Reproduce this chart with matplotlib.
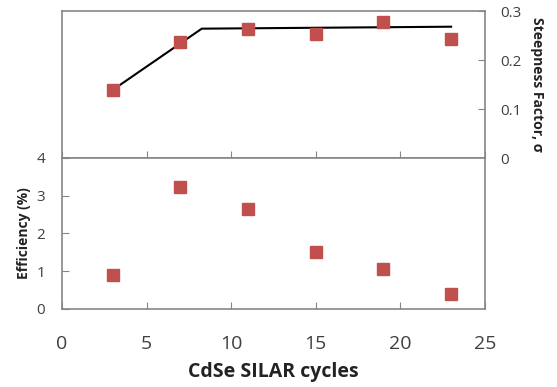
import matplotlib
matplotlib.use('Agg')
import matplotlib.pyplot as plt

plt.rcParams['font.family'] = ['Open Sans', 'DejaVu Sans']

# 데이터
cycles = [3, 7, 11, 15, 19, 23]
steepness = [0.139, 0.237, 0.263, 0.254, 0.278, 0.243]
efficiency = [0.90, 3.24, 2.64, 1.52, 1.06, 0.40]

# 추세선 (꺾인 직선)
fit_x = [3, 8.26, 23.0]
fit_y = [0.139, 0.264, 0.268]

red = '#C0504D'
spine_c = '#868686'
text_c = '#404040'

fig = plt.figure(figsize=(5.57, 3.87), dpi=100)
ax1 = fig.add_axes([0.1113, 0.5917, 0.7594, 0.3798])
ax2 = fig.add_axes([0.1113, 0.2016, 0.7594, 0.3902])

# 위쪽 그래프: Steepness factor
ax1.plot(fit_x, fit_y, color='black', lw=1.5, zorder=2)
ax1.plot(cycles, steepness, 's', color=red, ms=8.5, zorder=3)
ax1.set_xlim(0, 25)
ax1.set_ylim(0, 0.3)
ax1.set_xticks([0, 5, 10, 15, 20, 25])
ax1.set_yticks([0, 0.1, 0.2, 0.3])
ax1.set_yticklabels(['0', '0.1', '0.2', '0.3'])
ax1.yaxis.tick_right()
ax1.yaxis.set_label_position('right')
ax1.tick_params(axis='x', direction='in', length=5, color=spine_c, labelbottom=False)
ax1.tick_params(axis='y', direction='in', length=5, color=spine_c, labelsize=11,
                labelcolor=text_c, pad=11)
ax1.set_ylabel('Steepness Factor, σ', fontsize=10, fontweight='bold',
               rotation=-90, labelpad=16, color='#222222')

# 아래쪽 그래프: Efficiency
ax2.plot(cycles, efficiency, 's', color=red, ms=8.5, zorder=3)
ax2.set_xlim(0, 25)
ax2.set_ylim(0, 4)
ax2.set_xticks([0, 5, 10, 15, 20, 25])
ax2.set_yticks([0, 1, 2, 3, 4])
ax2.tick_params(axis='x', direction='in', length=5, color=spine_c, labelsize=14,
                labelcolor=text_c, pad=19)
ax2.tick_params(axis='y', direction='in', length=5, color=spine_c, labelsize=11,
                labelcolor=text_c, pad=12)
ax2.set_xlabel('CdSe SILAR cycles', fontsize=14, fontweight='bold', color='#222222',
               labelpad=6)
ax2.set_ylabel('Efficiency (%)', fontsize=10, fontweight='bold', color='#222222',
               labelpad=4)

for ax in (ax1, ax2):
    for s in ax.spines.values():
        s.set_color(spine_c)
        s.set_linewidth(1.2)

fig.savefig('out.png', dpi=100)
